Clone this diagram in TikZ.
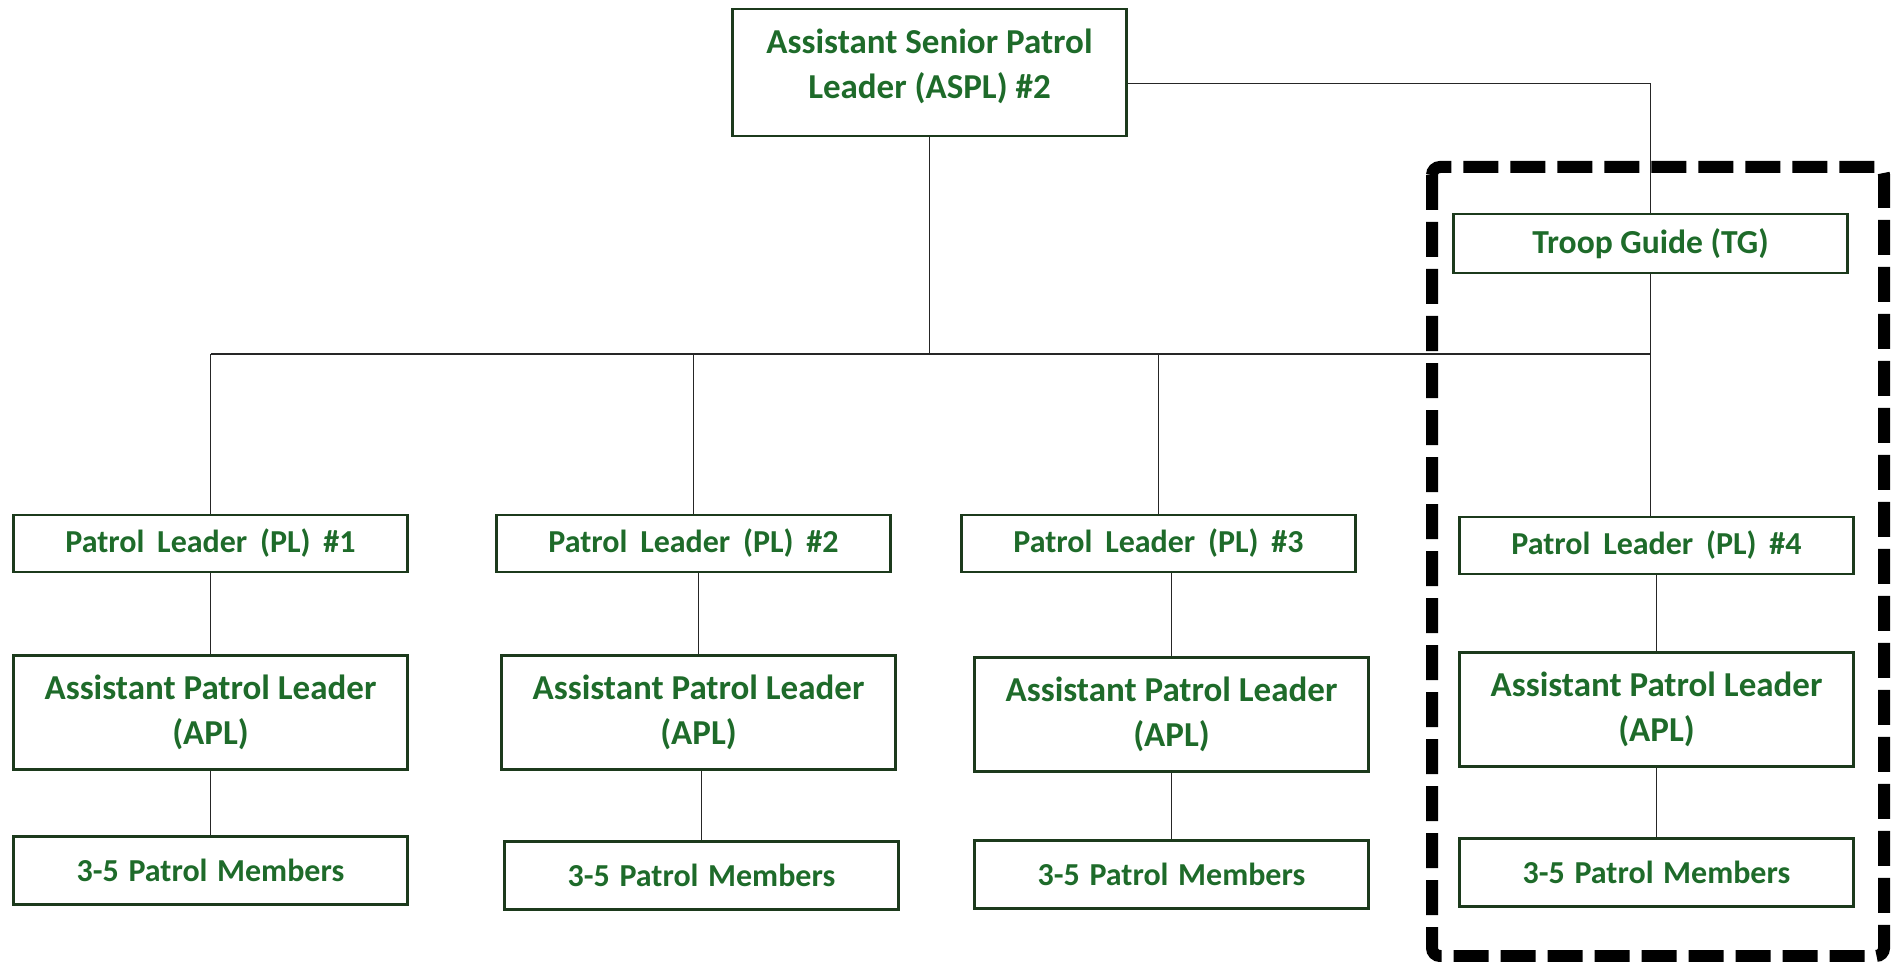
\documentclass[tikz,border=0pt]{standalone}
\usepackage{fontspec}
\setmainfont{Carlito}
\usepackage{xcolor}
\usetikzlibrary{positioning}
\definecolor{scoutgreen}{HTML}{1E6B2A}
\definecolor{boxline}{HTML}{1C3A1C}
\newcommand{\gap}{\hspace{0.4em}}
\newcommand{\mgap}{\hspace{0.3em}}

\begin{document}
\begin{tikzpicture}[
    x=0.5pt, y=-0.5pt,
    node distance=41.5pt,
    every node/.style={
        draw=boxline,
        line width=1.4pt,
        align=center,
        font=\fontsize{16}{22.5}\selectfont\bfseries,
        text=scoutgreen,
        minimum width=197pt,
        inner sep=0pt
    },
    big/.style={font=\fontsize{17.5}{22.5}\selectfont\bfseries},
    pl/.style={minimum height=28.5pt},
    apl/.style={big, minimum height=57pt},
    mem/.style={minimum height=34pt},
    link/.style={line width=0.7pt, black!85},
    tgframe/.style={line width=6pt, dash pattern=on 17.5pt off 6pt, rounded corners=4pt}
]

\useasboundingbox (0,0) rectangle (1898,962);

\node[big, minimum height=63.5pt, text depth=9pt] (aspl) at (929.5,72.5) {Assistant Senior Patrol\\Leader (ASPL) \#2};
\node[font=\fontsize{16.8}{20}\selectfont\bfseries, minimum height=29.5pt] (tg) at (1650.5,243.5) {Troop Guide (TG)};

\node[pl] (pl1) at (210.5,543.5) {Patrol\gap Leader\gap (PL)\gap \#1};
\node[pl] (pl2) at (693.5,543.5) {Patrol\gap Leader\gap (PL)\gap \#2};
\node[pl] (pl3) at (1158.5,543.5) {Patrol\gap Leader\gap (PL)\gap \#3};
\node[pl] (pl4) at (1656.5,545.5) {Patrol\gap Leader\gap (PL)\gap \#4};

\node[apl] (apl1) [below=40.5pt of pl1] {Assistant Patrol Leader\\(APL)};
\node[apl] (apl2) [below=40.5pt of pl2, xshift=2.5pt] {Assistant Patrol Leader\\(APL)};
\node[apl] (apl3) [below=41.5pt of pl3, xshift=6.5pt] {Assistant Patrol Leader\\(APL)};
\node[apl] (apl4) [below=38pt of pl4] {Assistant Patrol Leader\\(APL)};

\node[mem] (mem1) [below=32pt of apl1] {3-5\mgap Patrol\mgap Members};
\node[mem] (mem2) [below=34.5pt of apl2, xshift=1.5pt] {3-5\mgap Patrol\mgap Members};
\node[mem] (mem3) [below=33pt of apl3] {3-5\mgap Patrol\mgap Members};
\node[mem] (mem4) [below=34.5pt of apl4] {3-5\mgap Patrol\mgap Members};

\coordinate (bar) at (0,354);

\draw[link] (aspl.south) -- (aspl.south |- bar);
\draw[link] ([yshift=-5.5pt]aspl.east) -| (tg.north);
\draw[link] (pl1.north |- bar) -- (tg.south |- bar);
\draw[link] (tg.south) -- (tg.south |- pl4.north);
\foreach \i in {1,2,3}
    \draw[link] (pl\i.north) -- (pl\i.north |- bar);
\foreach \i in {1,...,4} {
    \draw[link] (apl\i.north) -- (apl\i.north |- pl\i.south);
    \draw[link] (mem\i.north) -- (mem\i.north |- apl\i.south);
}

\draw[tgframe] (1432,167) rectangle (1884,956);

\end{tikzpicture}
\end{document}
